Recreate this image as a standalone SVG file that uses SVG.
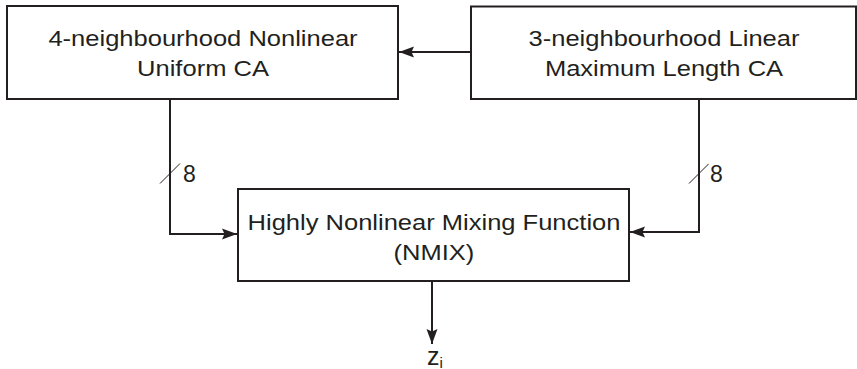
<svg xmlns="http://www.w3.org/2000/svg" width="857" height="369" viewBox="0 0 857 369">
<defs>
<style>
.box{fill:#fff;stroke:#231f20;stroke-width:2}
.lbl{font-family:"Liberation Sans",Arial,sans-serif;font-size:22px;fill:#231f20;text-anchor:middle}
.wire{fill:none;stroke:#231f20;stroke-width:2}
.tick{stroke:#231f20;stroke-width:1}
.num{font-family:"Liberation Sans",Arial,sans-serif;font-size:23px;fill:#231f20}
</style>
<marker id="ah" markerUnits="userSpaceOnUse" viewBox="0 0 15 12" refX="15" refY="6" markerWidth="15" markerHeight="12" orient="auto">
<path d="M0,0.5 L15,6 L0,11.5 L2.5,6 z" fill="#231f20"/>
</marker>
</defs>
<rect width="857" height="369" fill="#fff"/>
<g id="connectors">
<line class="wire" x1="470" y1="52" x2="399" y2="52" marker-end="url(#ah)"/>
<path class="wire" d="M170,99 V234 H237" marker-end="url(#ah)"/>
<path class="wire" d="M699,99 V232 H630" marker-end="url(#ah)"/>
<line class="wire" x1="432" y1="282" x2="432" y2="344" marker-end="url(#ah)"/>
<line class="tick" x1="160" y1="183.5" x2="180" y2="163.5"/>
<line class="tick" x1="689" y1="183.5" x2="708.5" y2="164"/>
<text class="num" x="183" y="181.5">8</text>
<text class="num" x="710" y="181.5">8</text>
</g>
<g id="node-nonlinear">
<rect class="box" x="7" y="6" width="391" height="93"/>
<text class="lbl" transform="translate(203,45.5) scale(1.16,1)"><tspan x="0" y="0">4-neighbourhood Nonlinear</tspan><tspan x="0" y="30.5">Uniform CA</tspan></text>
</g>
<g id="node-linear">
<rect class="box" x="471" y="6.5" width="385" height="92.5"/>
<text class="lbl" transform="translate(664,45.5) scale(1.16,1)"><tspan x="0" y="0">3-neighbourhood Linear</tspan><tspan x="0" y="30.5">Maximum Length CA</tspan></text>
</g>
<g id="node-nmix">
<rect class="box" x="238" y="189" width="391" height="92"/>
<text class="lbl" transform="translate(434,229.5) scale(1.16,1)"><tspan x="0" y="0">Highly Nonlinear Mixing Function</tspan><tspan x="0" y="30.5">(NMIX)</tspan></text>
</g>
<g id="output-label">
<text font-family="Liberation Sans, Arial, sans-serif" font-size="25" fill="#231f20" x="427" y="364.5">z<tspan font-size="15" dy="3">i</tspan></text>
</g>
</svg>
